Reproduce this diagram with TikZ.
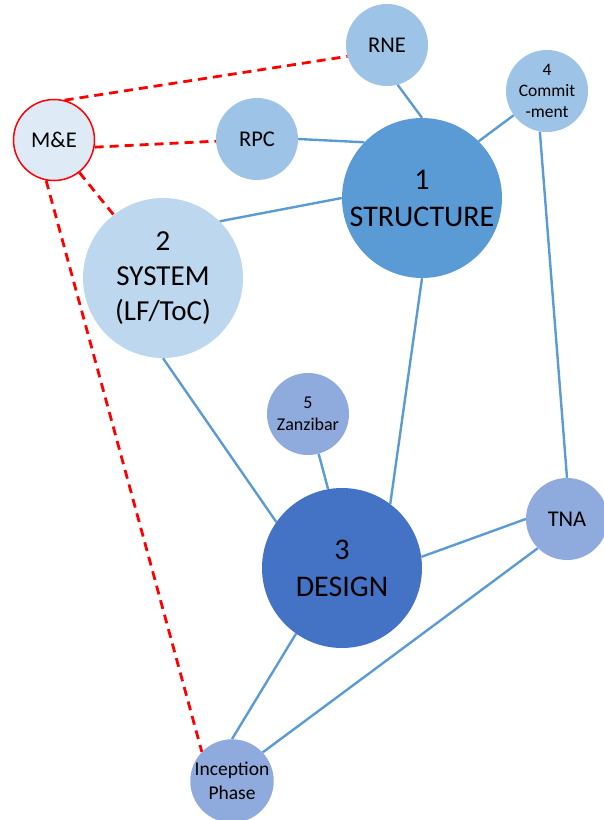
\documentclass[tikz,border=0pt]{standalone}
\usepackage{fontspec}
\setmainfont{Carlito}
\definecolor{lineblue}{HTML}{5B9BD5}
\definecolor{paleblue}{HTML}{9DC3E6}
\definecolor{midblue}{HTML}{5B9BD5}
\definecolor{lightblue}{HTML}{BDD7EE}
\definecolor{darkblue}{HTML}{4472C4}
\definecolor{greyblue}{HTML}{8FAADC}
\definecolor{mefill}{HTML}{DEEBF7}

\begin{document}
\begin{tikzpicture}[x=1pt,y=-1pt,
        bub/.style={circle,inner sep=0pt,align=center,minimum size=82pt},
        big/.style={bub,minimum size=160pt,font=\fontsize{30}{37}\selectfont},
        link/.style={lineblue,line width=2.4pt},
        mlink/.style={red,line width=2.8pt,dash pattern=on 9pt off 6pt}]
        \useasboundingbox (0,0) rectangle (603,820);
        \node[bub,fill=paleblue,font=\fontsize{22.5}{27}\selectfont](rne) at (387,45){RNE};
        \node[bub,fill=paleblue,font=\fontsize{17.5}{21}\selectfont](com) at (547,91){4\\Commit\\-ment};
        \node[bub,fill=mefill,draw=red,line width=1.5pt,minimum size=81pt,font=\fontsize{22.5}{27}\selectfont](me) at (54,140){M\&E};
        \node[bub,fill=paleblue,font=\fontsize{22.5}{27}\selectfont](rpc) at (257,139){RPC};
        \node[big,fill=midblue](str) at (422,198){1\\STRUCTURE};
        \node[big,fill=lightblue,font=\fontsize{29}{35}\selectfont](sys) at (163,278){2\\SYSTEM\\(LF/ToC)};
        \node[bub,fill=greyblue,font=\fontsize{18}{22}\selectfont](zan) at (308,414){5\\Zanzibar};
        \node[big,fill=darkblue](des) at (342,568){3\\DESIGN};
        \node[bub,fill=greyblue,font=\fontsize{22.5}{27}\selectfont](tna) at (567,519){TNA};
        \node[bub,fill=greyblue,font=\fontsize{19.5}{24}\selectfont](inc) at (232,781){Inception\\Phase};
        \draw[link](rne.285)--(str.north);
        \draw[link](com.216)--(str.45);
        \draw[link](rpc.east)--(str.136);
        \draw[link](sys.45)--(str.west);
        \draw[link](str.south)--(des.53);
        \draw[link](com.260)--(tna.north);
        \draw[link](sys.south)--(des.145);
        \draw[link](zan.285)--(des.100);
        \draw[link](des.8)--(tna.west);
        \draw[link](des.235)--(inc.north);
        \draw[link](tna.225)--(inc.43);
        \draw[mlink](me.75)--(rne.196);
        \draw[mlink](me.-10)--(rpc.183);
        \draw[mlink](me.-52)--(sys.128);
        \draw[mlink](me.259)--(inc.136);
    \end{tikzpicture}
\end{document}
